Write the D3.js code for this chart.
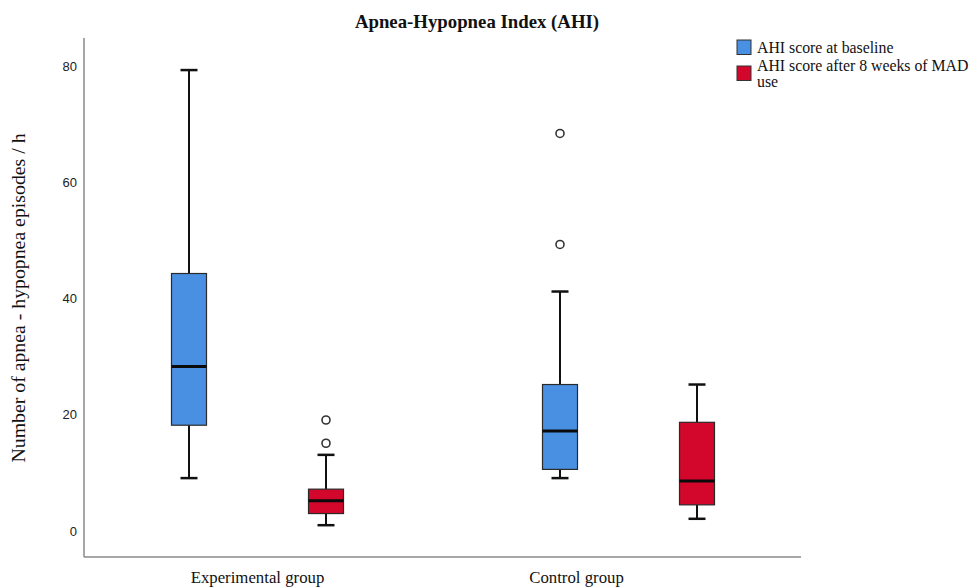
<!DOCTYPE html>
<html>
<head>
<meta charset="utf-8">
<script src="https://cdn.jsdelivr.net/npm/d3@7"></script>
<style>
  html, body { margin: 0; padding: 0; background: #fff; }
  svg { display: block; }
</style>
</head>
<body>
<svg id="chart" width="971" height="588"></svg>
<script>
// ---- data ----
const groups = ["Experimental group", "Control group"];
const seriesNames = ["AHI score at baseline", "AHI score after 8 weeks of MAD use"];
const seriesColors = ["#4a90e2", "#d2072b"];
// [whiskerLow, q1, median, q3, whiskerHigh] per group, per series
const baselineStats = [
  [9.1, 18.2, 28.3, 44.3, 79.3],
  [9.1, 10.6, 17.2, 25.2, 41.2]
];
const afterStats = [
  [1.0, 3.0, 5.2, 7.2, 13.1],
  [2.1, 4.5, 8.6, 18.7, 25.2]
];
const baselineOutliers = [[], [68.4, 49.3]];
const afterOutliers = [[19.1, 15.1], []];
const yTicks = [0, 20, 40, 60, 80];

// ---- layout ----
const svg = d3.select("#chart");
const plot = { left: 84, right: 801, top: 38, bottom: 557 };

const y = d3.scaleLinear().domain([0, 80]).range([531, 66]);
const x0 = d3.scaleBand().domain(groups).range([72, 814]).paddingInner(0).paddingOuter(0);
const x1 = d3.scalePoint().domain([0, 1]).range([0, x0.bandwidth()]).padding(0.854);

const boxW = 35;
const capW = 17;

// axes lines
svg.append("line")
  .attr("x1", plot.left).attr("x2", plot.left)
  .attr("y1", plot.top).attr("y2", plot.bottom)
  .attr("stroke", "#8a8a8a").attr("stroke-width", 1.5);
svg.append("line")
  .attr("x1", plot.left).attr("x2", plot.right)
  .attr("y1", plot.bottom).attr("y2", plot.bottom)
  .attr("stroke", "#8a8a8a").attr("stroke-width", 1.5);

// y axis tick labels
const yAxis = d3.axisLeft(y).tickValues(yTicks).tickSize(0).tickPadding(0).tickFormat(d3.format("d"));
const yg = svg.append("g").attr("transform", `translate(${plot.left - 7},0)`).call(yAxis);
yg.select(".domain").remove();
yg.selectAll("text")
  .attr("font-family", "Liberation Sans, Arial, sans-serif")
  .attr("font-size", 13)
  .attr("fill", "#222");

// x axis labels
const xAxis = d3.axisBottom(x0).tickSize(0).tickPadding(0);
const xg = svg.append("g").attr("transform", `translate(0,${plot.bottom + 26})`).call(xAxis);
xg.select(".domain").remove();
xg.selectAll("text")
  .attr("font-family", "Liberation Serif, 'Times New Roman', serif")
  .attr("font-size", 16.8)
  .attr("fill", "#111")
  .attr("dy", 0)
  .attr("x", (d, i) => i === 1 ? -52 : 0);

// title
svg.append("text")
  .attr("x", 477).attr("y", 28)
  .attr("text-anchor", "middle")
  .attr("font-family", "Liberation Serif, 'Times New Roman', serif")
  .attr("font-weight", "bold")
  .attr("font-size", 18.8)
  .attr("fill", "#111")
  .text("Apnea-Hypopnea Index (AHI)");

// y label
svg.append("text")
  .attr("transform", "translate(25,298) rotate(-90)")
  .attr("text-anchor", "middle")
  .attr("font-family", "Liberation Serif, 'Times New Roman', serif")
  .attr("font-size", 19.8)
  .attr("fill", "#111")
  .text("Number of apnea - hypopnea episodes / h");

// boxes
const allStats = [baselineStats, afterStats];
const allOut = [baselineOutliers, afterOutliers];

groups.forEach((g, gi) => {
  [0, 1].forEach(si => {
    const s = allStats[si][gi];
    const cx = x0(g) + x1(si);
    const bg = svg.append("g");
    // whisker lines
    bg.append("line").attr("x1", cx).attr("x2", cx).attr("y1", y(s[3])).attr("y2", y(s[4]))
      .attr("stroke", "#111").attr("stroke-width", 2);
    bg.append("line").attr("x1", cx).attr("x2", cx).attr("y1", y(s[0])).attr("y2", y(s[1]))
      .attr("stroke", "#111").attr("stroke-width", 2);
    // caps
    [s[0], s[4]].forEach(v => {
      bg.append("line").attr("x1", cx - capW / 2).attr("x2", cx + capW / 2)
        .attr("y1", y(v)).attr("y2", y(v))
        .attr("stroke", "#111").attr("stroke-width", 2.5);
    });
    // box
    bg.append("rect")
      .attr("x", cx - boxW / 2).attr("width", boxW)
      .attr("y", y(s[3])).attr("height", y(s[1]) - y(s[3]))
      .attr("fill", seriesColors[si])
      .attr("stroke", "#2a2a2a").attr("stroke-width", 1.2);
    // median
    bg.append("line").attr("x1", cx - boxW / 2).attr("x2", cx + boxW / 2)
      .attr("y1", y(s[2])).attr("y2", y(s[2]))
      .attr("stroke", "#0a0a0a").attr("stroke-width", 3);
    // outliers
    allOut[si][gi].forEach(v => {
      bg.append("circle").attr("cx", cx).attr("cy", y(v)).attr("r", 4)
        .attr("fill", "#fff").attr("stroke", "#333").attr("stroke-width", 1.6);
    });
  });
});

// legend
const lg = svg.append("g").attr("transform", "translate(737,40)");
const legendRows = [
  { lines: ["AHI score at baseline"], dy: 0 },
  { lines: ["AHI score after 8 weeks of MAD", "use"], dy: 26 }
];
legendRows.forEach((r, i) => {
  lg.append("rect").attr("x", 0).attr("y", r.dy).attr("width", 14).attr("height", 14.5)
    .attr("fill", seriesColors[i]).attr("stroke", "#333").attr("stroke-width", 1);
  r.lines.forEach((t, li) => {
    lg.append("text")
      .attr("x", 20).attr("y", r.dy + 13 + li * 16 - (i === 1 ? 8 : 0))
      .attr("font-family", "Liberation Serif, 'Times New Roman', serif")
      .attr("font-size", 15.8)
      .attr("fill", "#111")
      .text(t);
  });
});
</script>
</body>
</html>
